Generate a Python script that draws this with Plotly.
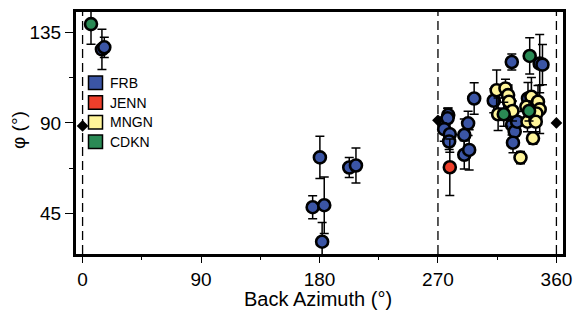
import plotly.graph_objects as go

# ---------------- data ----------------
frb_az  = [14.7, 16.5, 180.3, 174.8, 183.6, 182.0, 202.6, 207.7,
           277.8, 277.3, 274.7, 279.0, 278.5, 290.0, 292.9, 290.0, 293.7,
           297.5, 312.4, 326.1, 347.3, 349.4, 326.3, 328.3, 327.0, 330.1, 338.4]
frb_phi = [126.5, 127.5, 72.9, 48.2, 49.2, 31.1, 67.9, 68.9,
           93.9, 92.3, 86.9, 84.4, 80.8, 84.0, 89.8, 74.2, 76.6,
           102.1, 101.0, 120.2, 119.4, 118.9, 89.0, 85.7, 80.2, 90.6, 102.1]
frb_err = [10, 5, 10.5, 5.7, 14, 9.5, 5, 8.7,
           3.5, 5, 6, 9, 4, 8, 6, 7, 10,
           7.8, 6, 4, 14.5, 10, 5, 5, 5, 5, 8]

jenn_az  = [279.0]
jenn_phi = [68.0]
jenn_err = [14]

mngn_az  = [314.6, 321.3, 323.3, 324.0, 315.7, 326.6, 332.7,
            341.0, 346.0, 337.2, 347.3, 344.8, 338.0, 344.3, 342.2]
mngn_phi = [106.2, 107.1, 103.8, 100.5, 94.3, 95.9, 72.8,
            103.0, 100.5, 98.0, 96.7, 94.7, 90.6, 90.6, 82.4]
mngn_err = [10, 4.5, 5, 5, 8, 5, 3,
            9.5, 8, 6, 12, 5, 5, 5, 3]

cdkn_az  = [6.4, 320.0, 339.7, 339.2]
cdkn_phi = [139.0, 94.3, 123.2, 95.9]
cdkn_err = [10, 6, 9, 5]

ref_lines_az = [0, 270, 360]
ref_pts_az   = [0, 270, 360]
ref_pts_phi  = [88.5, 91.3, 90.0]

stations = ["FRB", "JENN", "MNGN", "CDKN"]
colors   = ["#3B55A5", "#EE3F2B", "#FFF59A", "#2A8A55"]

x_ticks = [0, 90, 180, 270, 360]
y_ticks = [45, 90, 135]

# ---------------- figure ----------------
W, H = 573, 314
ML, MR, MT, MB = 76, 10, 12, 60
PW, PH = W - ML - MR, H - MT - MB
FONT = "Liberation Sans, Arial, sans-serif"

fig = go.Figure()

series = [(frb_az, frb_phi, frb_err), (jenn_az, jenn_phi, jenn_err),
          (mngn_az, mngn_phi, mngn_err), (cdkn_az, cdkn_phi, cdkn_err)]

for name, col, (az, ph, er) in zip(stations, colors, series):
    fig.add_trace(go.Scatter(
        x=az, y=ph, mode="markers", name=name, showlegend=False,
        marker=dict(size=12, color=col, line=dict(color="black", width=2.6)),
        error_y=dict(type="data", array=er, visible=True, color="black",
                     thickness=1.5, width=4.5),
    ))

fig.add_trace(go.Scatter(
    x=ref_pts_az, y=ref_pts_phi, mode="markers", showlegend=False,
    marker=dict(symbol="diamond", size=9, color="black"),
    cliponaxis=False,
))

for a in ref_lines_az:
    fig.add_shape(type="line", xref="x", yref="paper", x0=a, x1=a, y0=0, y1=1,
                  line=dict(color="black", width=1.3, dash="9px,5px"), layer="below")

# pixel -> paper helper for layout decorations
def px2paper(px, py):
    return (px - ML) / PW, (MT + PH - py) / PH

# manual legend
for i, (name, col) in enumerate(zip(stations, colors)):
    top = 76 + i * 19.7
    x0, y1 = px2paper(88.5, top)
    x1, y0 = px2paper(102.5, top + 13.5)
    fig.add_shape(type="rect", xref="paper", yref="paper", x0=x0, x1=x1, y0=y0, y1=y1,
                  fillcolor=col, line=dict(color="black", width=1.5))
    tx, ty = px2paper(108, top + 7)
    fig.add_annotation(xref="paper", yref="paper", x=tx, y=ty, text=name,
                       showarrow=False, xanchor="left", yanchor="middle",
                       font=dict(size=14, color="black", family=FONT))

# axis titles as annotations (precise placement)
tx, ty = px2paper(318, 299)
fig.add_annotation(xref="paper", yref="paper", x=tx, y=ty, text="Back Azimuth (°)",
                   showarrow=False, xanchor="center", yanchor="middle",
                   font=dict(size=20, color="black", family=FONT))
tx, ty = px2paper(18, 130)
fig.add_annotation(xref="paper", yref="paper", x=tx, y=ty, text="φ (°)", textangle=-90,
                   showarrow=False, xanchor="center", yanchor="middle",
                   font=dict(size=19, color="black", family=FONT))

fig.update_layout(
    width=W, height=H,
    margin=dict(l=ML, r=MR, t=MT, b=MB, autoexpand=False),
    paper_bgcolor="white", plot_bgcolor="white",
    font=dict(family=FONT, color="black", size=19),
    showlegend=False,
)
fig.update_xaxes(
    range=[-5, 365], tickvals=x_ticks, ticktext=[str(v) for v in x_ticks],
    showgrid=False, zeroline=False, automargin=False,
    showline=True, linecolor="black", linewidth=3, mirror=True,
    ticks="outside", ticklen=6, tickwidth=1.3, tickcolor="black",
    minor=dict(dtick=45, tick0=0, ticks="outside", ticklen=3, tickwidth=1.3, tickcolor="black"),
    tickfont=dict(size=19),
)
fig.update_yaxes(
    range=[25, 145], tickvals=y_ticks, ticktext=[str(v) for v in y_ticks],
    showgrid=False, zeroline=False, automargin=False,
    showline=True, linecolor="black", linewidth=3, mirror=True,
    ticks="outside", ticklen=8, tickwidth=1.3, tickcolor="black",
    minor=dict(dtick=22.5, tick0=0, ticks="outside", ticklen=4, tickwidth=1.3, tickcolor="black"),
    tickfont=dict(size=19),
)

fig.write_html(
    "out.html",
    config={"displayModeBar": False},
    post_script="document.body.style.margin='0';document.body.style.overflow='hidden';",
)
